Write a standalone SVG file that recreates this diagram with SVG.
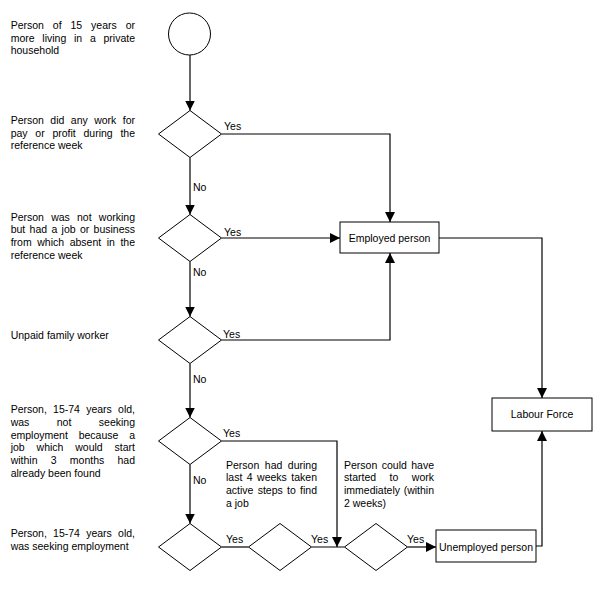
<svg xmlns="http://www.w3.org/2000/svg" width="613" height="591" viewBox="0 0 613 591">
<style>
text{font-family:"Liberation Sans",Arial,sans-serif;font-size:10.5px;fill:#000}
.shape{fill:#fff;stroke:#000;stroke-width:1}
.conn{fill:none;stroke:#000;stroke-width:1.2}
.mid{text-anchor:middle}
</style>
<defs>
<marker id="arr" viewBox="0 0 10 10" refX="10" refY="5" markerWidth="10" markerHeight="10" markerUnits="userSpaceOnUse" orient="auto">
<path d="M0,0 L10,5 L0,10 z" fill="#000"/>
</marker>
</defs>
<rect width="613" height="591" fill="#fff"/>

<g id="connectors">
<path class="conn" d="M190,55 V110.5" marker-end="url(#arr)"/>
<path class="conn" d="M190,157.5 V214.5" marker-end="url(#arr)"/>
<path class="conn" d="M190,261.5 V316.5" marker-end="url(#arr)"/>
<path class="conn" d="M190,363.5 V417.5" marker-end="url(#arr)"/>
<path class="conn" d="M190,464.5 V523.5" marker-end="url(#arr)"/>
<path class="conn" d="M221.5,134 H390 V222" marker-end="url(#arr)"/>
<path class="conn" d="M221.5,238 H340" marker-end="url(#arr)"/>
<path class="conn" d="M221.5,340 H390 V253" marker-end="url(#arr)"/>
<path class="conn" d="M221.5,441 H337 V547" marker-end="url(#arr)"/>
<path class="conn" d="M221.5,547 H248.5"/>
<path class="conn" d="M311.5,547 H344.5"/>
<path class="conn" d="M407.5,547 H436" marker-end="url(#arr)"/>
<path class="conn" d="M439,238 H542 V398" marker-end="url(#arr)"/>
<path class="conn" d="M536,546 H542 V431" marker-end="url(#arr)"/>
<text x="224" y="130">Yes</text>
<text x="224" y="236">Yes</text>
<text x="223" y="338">Yes</text>
<text x="223" y="437">Yes</text>
<text x="226" y="543">Yes</text>
<text x="311" y="543">Yes</text>
<text x="407" y="543">Yes</text>
<text x="193" y="190.5">No</text>
<text x="193" y="276">No</text>
<text x="193" y="383">No</text>
<text x="193" y="484">No</text>
</g>

<g id="start"><circle class="shape" cx="189.5" cy="34" r="21"/></g>
<g id="d1"><path class="shape" d="M190,110.5 L221.5,134 L190,157.5 L158.5,134 z"/></g>
<g id="d2"><path class="shape" d="M190,214.5 L221.5,238 L190,261.5 L158.5,238 z"/></g>
<g id="d3"><path class="shape" d="M190,316.5 L221.5,340 L190,363.5 L158.5,340 z"/></g>
<g id="d4"><path class="shape" d="M190,417.5 L221.5,441 L190,464.5 L158.5,441 z"/></g>
<g id="d5"><path class="shape" d="M190,523.5 L221.5,547 L190,570.5 L158.5,547 z"/></g>
<g id="d6"><path class="shape" d="M280,523.5 L311.5,547 L280,570.5 L248.5,547 z"/></g>
<g id="d7"><path class="shape" d="M376,523.5 L407.5,547 L376,570.5 L344.5,547 z"/></g>
<g id="employed"><rect class="shape" x="340" y="222" width="99" height="31"/><text class="mid" x="389.5" y="241.5">Employed person</text></g>
<g id="labour"><rect class="shape" x="492" y="398" width="100" height="33"/><text class="mid" x="542" y="418">Labour Force</text></g>
<g id="unemployed"><rect class="shape" x="436" y="530" width="100" height="32"/><text class="mid" x="486" y="550.5">Unemployed person</text></g>

<g id="labels">
<text x="10.7" y="29"><tspan word-spacing="5.98">Person of 15 years or</tspan><tspan x="10.7" dy="12.7" word-spacing="4.82">more living in a private</tspan><tspan x="10.7" dy="12.7">household</tspan></text>
<text x="10.7" y="124"><tspan word-spacing="3.5">Person did any work for</tspan><tspan x="10.7" dy="12.7" word-spacing="4.81">pay or profit during the</tspan><tspan x="10.7" dy="12.7">reference week</tspan></text>
<text x="10.7" y="220.7"><tspan word-spacing="4.28">Person was not working</tspan><tspan x="10.7" dy="12.7" word-spacing="1.4">but had a job or business</tspan><tspan x="10.7" dy="12.7" word-spacing="2.63">from which absent in the</tspan><tspan x="10.7" dy="12.7">reference week</tspan></text>
<text x="10.7" y="339">Unpaid family worker</text>
<text x="10.7" y="413"><tspan word-spacing="3.3">Person, 15-74 years old,</tspan><tspan x="10.7" dy="12.8" word-spacing="24.5">was not seeking</tspan><tspan x="10.7" dy="12.8" word-spacing="7.88">employment because a</tspan><tspan x="10.7" dy="12.8" word-spacing="8.95">job which would start</tspan><tspan x="10.7" dy="12.8" word-spacing="10.31">within 3 months had</tspan><tspan x="10.7" dy="12.8">already been found</tspan></text>
<text x="10.7" y="537"><tspan word-spacing="3.3">Person, 15-74 years old,</tspan><tspan x="10.7" dy="12.8">was seeking employment</tspan></text>
<text x="226" y="468.5"><tspan word-spacing="2.6">Person had during</tspan><tspan x="226" dy="12.8" word-spacing="1.54">last 4 weeks taken</tspan><tspan x="226" dy="12.8" word-spacing="1.35">active steps to find</tspan><tspan x="226" dy="12.8">a job</tspan></text>
<text x="344" y="468.5"><tspan word-spacing="1.52">Person could have</tspan><tspan x="344" dy="12.8" word-spacing="10.57">started to work</tspan><tspan x="344" dy="12.8" word-spacing="0.74">immediately (within</tspan><tspan x="344" dy="12.8">2 weeks)</tspan></text>
</g>
</svg>
